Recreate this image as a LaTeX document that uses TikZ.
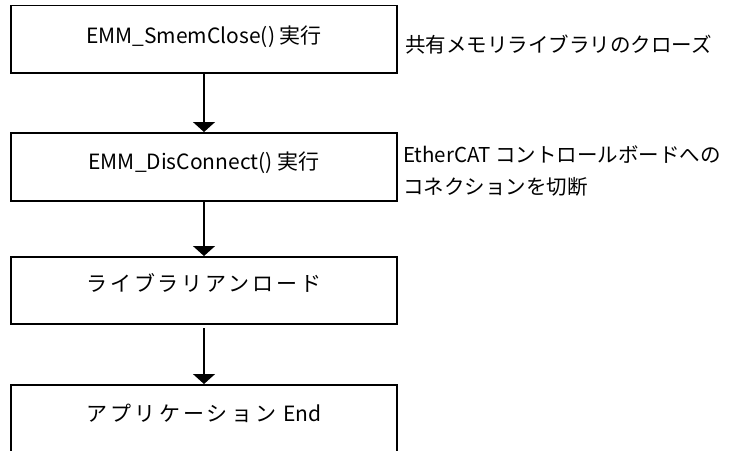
\documentclass[tikz,border=0pt]{standalone}
\usepackage{fontspec}
\setmainfont{Noto Sans CJK JP}
\usetikzlibrary{arrows.meta}
\begin{document}
\begin{tikzpicture}[x=1pt,y=-1pt,
  box/.style={draw=black, line width=1.8pt, minimum width=386pt, inner sep=0pt, outer sep=0pt},
  boxtext/.style={font=\fontsize{21}{25}\selectfont, inner sep=0pt},
  note/.style={font=\fontsize{20.5}{32}\selectfont, inner sep=0pt, anchor=west, align=left},
  flow/.style={line width=1.4pt, -{Triangle[width=22pt,length=10pt]}}]
\useasboundingbox (0,0) rectangle (747,450);
\clip (0,0) rectangle (747,450);
\node[box, minimum height=67.5pt] (b1) at (204,39.25) {};
\node[box, minimum height=68pt] (b2) at (204,167) {};
\node[box, minimum height=67pt] (b3) at (204,290.5) {};
\node[box, minimum height=120pt] (b4) at (204,445) {};
\node[boxtext] (t1) at (204,37) {EMM\_SmemClose() 実行};
\node[boxtext] (t2) at (204,163) {EMM\_DisConnect() 実行};
\node[boxtext] (t3) at (204,283) {{\addfontfeature{LetterSpace=14}ライブラリアンロード}};
\node[boxtext] (t4) at (204,413) {{\addfontfeature{LetterSpace=15}アプリケーション}\hspace{7pt}End};
\node[note] (n1) at (405,45) {共有メモリライブラリのクローズ};
\node[note] (n2) at (403,171) {EtherCAT コントロールボードへの\\コネクションを切断};
\draw[flow, shorten >=1pt] (b1.south) -- (b2.north);
\draw[flow, shorten >=1pt] (b2.south) -- (b3.north);
\draw[flow, shorten <=4pt, shorten >=1pt] (b3.south) -- (b4.north);
\end{tikzpicture}
\end{document}
